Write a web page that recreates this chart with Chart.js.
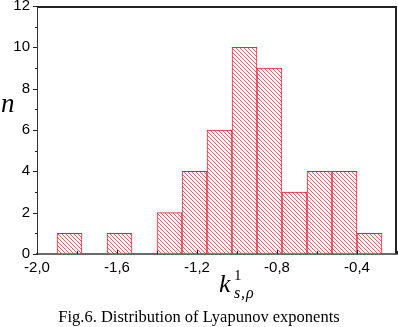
<!DOCTYPE html>
<html>
<head>
<meta charset="utf-8">
<script src="https://cdn.jsdelivr.net/npm/chart.js@4"></script>
<style>
  html, body { margin: 0; padding: 0; background: #fff; }
  #wrap { width: 398px; height: 327px; position: relative; }
</style>
</head>
<body>
<div id="wrap"><canvas id="myChart"></canvas></div>
<script>
// histogram bins (centres) and counts
var binCenters = [-1.8375, -1.7125, -1.5875, -1.4625, -1.3375, -1.2125, -1.0875,
                  -0.9625, -0.8375, -0.7125, -0.5875, -0.4625, -0.3375];
var counts = [1, 0, 1, 0, 2, 4, 6, 10, 9, 3, 4, 4, 1];
var xTicks = [-2.0, -1.6, -1.2, -0.8, -0.4];
var yTicks = [0, 2, 4, 6, 8, 10, 12];

// diagonal hatch for the bars
function makeHatch() {
  var c = document.createElement("canvas");
  c.width = 4;
  c.height = 4;
  var g = c.getContext("2d");
  g.fillStyle = "#fff2f4";
  g.fillRect(0, 0, 4, 4);
  g.strokeStyle = "rgba(225,60,80,0.8)";
  g.lineWidth = 1;
  g.beginPath();
  g.moveTo(-1, -1);
  g.lineTo(5, 5);
  g.moveTo(-1, 3);
  g.lineTo(1, 5);
  g.moveTo(3, -1);
  g.lineTo(5, 1);
  g.stroke();
  return g.createPattern(c, "repeat");
}

var points = binCenters.map(function (x, i) {
  return { x: x, y: counts[i] };
});

// frame, ticks and texts
var decoPlugin = {
  id: "deco",
  afterDraw: function (chart) {
    var ctx = chart.ctx;
    var a = chart.chartArea;
    var xs = chart.scales.x;
    var ys = chart.scales.y;
    var top = Math.round(a.top);
    var right = Math.round(a.right);
    ctx.save();
    ctx.fillStyle = "#222";
    // top and right frame, drawn inside the plot area
    ctx.fillRect(Math.round(a.left), top, right - Math.round(a.left), 2);
    ctx.fillRect(right - 2, top, 2, Math.round(a.bottom) - top);

    // y ticks (outward)
    for (var v = 0; v <= 12; v++) {
      var py = Math.round(ys.getPixelForValue(v));
      var len = v % 2 === 0 ? 4 : 2;
      ctx.fillRect(a.left - len, py, len, 1);
    }
    // x ticks (inward)
    for (var k = 0; k <= 9; k++) {
      var xv = -2.0 + k * 0.2;
      var px = Math.round(xs.getPixelForValue(xv));
      var l2 = k % 2 === 0 ? 4 : 3;
      ctx.fillRect(px, a.bottom - l2, 1, l2);
    }

    // y title
    ctx.fillStyle = "#000";
    ctx.font = "italic 27px 'Liberation Serif'";
    ctx.textAlign = "left";
    ctx.textBaseline = "alphabetic";
    ctx.fillText("n", 1, 112);

    // x title k^1_{s,rho}
    ctx.font = "italic 26px 'Liberation Serif'";
    ctx.fillText("k", 219, 292);
    ctx.font = "15px 'Liberation Serif'";
    ctx.fillText("1", 234, 280);
    ctx.font = "italic 16px 'Liberation Serif'";
    ctx.fillText("s", 234, 298);
    ctx.fillText(",", 241, 298);
    ctx.fillText("\u03c1", 246, 298);

    // caption
    ctx.font = "16.5px 'Liberation Serif'";
    ctx.textAlign = "center";
    ctx.fillText("Fig.6. Distribution of Lyapunov exponents", 199, 322);
    ctx.restore();
  },
};

var ctx = document.getElementById("myChart").getContext("2d");
var myChart = new Chart(ctx, {
  type: "bar",
  data: {
    datasets: [
      {
        data: points,
        backgroundColor: makeHatch(),
        borderColor: "#e2263c",
        borderWidth: 1,
        barPercentage: 1.0,
        categoryPercentage: 1.0,
        borderSkipped: false,
      },
    ],
  },
  options: {
    responsive: true,
    maintainAspectRatio: false,
    animation: false,
    layout: { padding: { top: 6, right: 1, left: 0, bottom: 0 } },
    plugins: {
      legend: { display: false },
      tooltip: { enabled: false },
    },
    scales: {
      x: {
        type: "linear",
        offset: false,
        min: -2.0,
        max: -0.2,
        afterFit: function (scale) {
          scale.height = 73;
          scale.paddingLeft = 0;
          scale.paddingRight = 0;
        },
        afterBuildTicks: function (scale) {
          scale.ticks = xTicks.map(function (v) {
            return { value: v };
          });
        },
        grid: { display: false, drawTicks: false },
        border: { display: true, color: "#6a6a6a", width: 2 },
        ticks: {
          color: "#000",
          padding: 5,
          maxRotation: 0,
          font: { family: "'Liberation Sans'", size: 15 },
          callback: function (v) {
            return v.toFixed(1).replace(".", ",");
          },
        },
      },
      y: {
        min: 0,
        max: 12,
        afterFit: function (scale) {
          scale.width = 37;
          scale.paddingTop = 0;
          scale.paddingBottom = 0;
        },
        afterBuildTicks: function (scale) {
          scale.ticks = yTicks.map(function (v) {
            return { value: v };
          });
        },
        grid: { display: false, drawTicks: false },
        border: { display: true, color: "#333", width: 1 },
        ticks: {
          color: "#000",
          padding: 7,
          font: { family: "'Liberation Sans'", size: 15 },
        },
      },
    },
  },
  plugins: [decoPlugin],
});
</script>
</body>
</html>
